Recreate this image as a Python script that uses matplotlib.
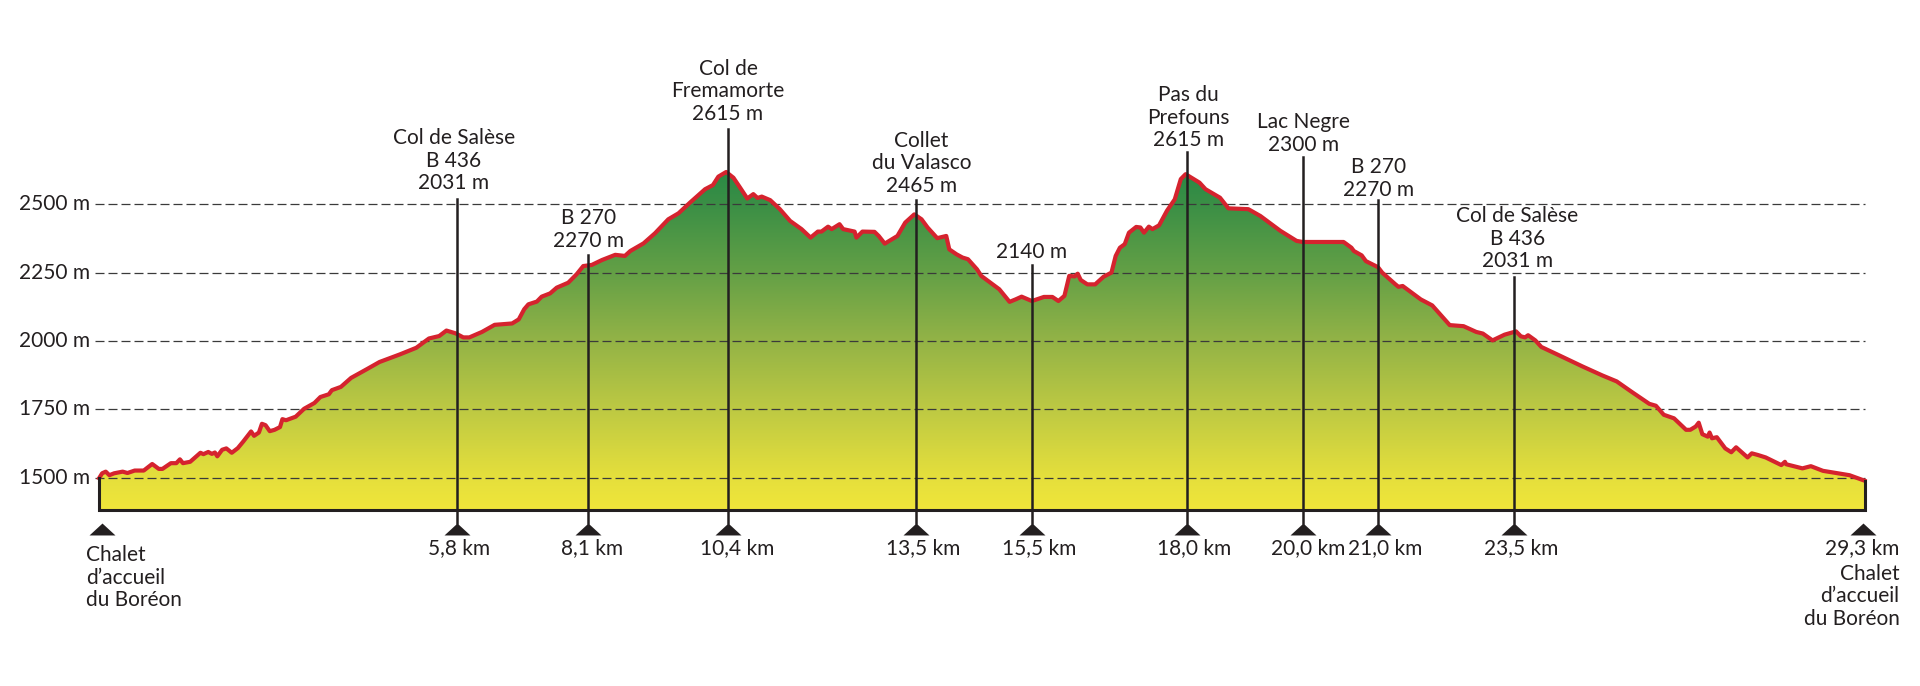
import numpy as np
import matplotlib.pyplot as plt
from matplotlib.colors import LinearSegmentedColormap
from matplotlib.patches import Polygon

plt.rcParams['font.family'] = ['Lato', 'DejaVu Sans']

# elevation profile
km = [0.01, 0.06, 0.12, 0.18, 0.26, 0.40, 0.48, 0.60, 0.75, 0.89, 1.00, 1.06, 1.20, 1.29, 1.35, 1.40,
      1.52, 1.69, 1.74, 1.82, 1.88, 1.93, 1.97, 2.05, 2.12, 2.21, 2.31, 2.40, 2.53, 2.58, 2.66, 2.71,
      2.77, 2.84, 2.92, 3.01, 3.05, 3.11, 3.27, 3.41, 3.58, 3.68, 3.82, 3.87, 4.02, 4.19, 4.46, 4.66,
      5.00, 5.27, 5.48, 5.65, 5.77, 5.92, 6.05, 6.15, 6.36, 6.57, 6.86, 6.97, 7.06, 7.13, 7.27, 7.35,
      7.49, 7.60, 7.79, 7.93, 8.04, 8.18, 8.35, 8.57, 8.73, 8.82, 9.04, 9.23, 9.45, 9.62, 9.81, 10.06,
      10.19, 10.28, 10.41, 10.53, 10.64, 10.76, 10.86, 10.93, 11.00, 11.14, 11.30, 11.47, 11.66, 11.81,
      11.93, 11.99, 12.10, 12.16, 12.29, 12.35, 12.54, 12.57, 12.67, 12.87, 12.94, 13.04, 13.25, 13.38,
      13.53, 13.65, 13.75, 13.91, 14.06, 14.11, 14.23, 14.33, 14.42, 14.57, 14.64, 14.94, 15.11, 15.21,
      15.31, 15.48, 15.68, 15.82, 15.92, 16.02, 16.10, 16.19, 16.24, 16.29, 16.40, 16.53, 16.67, 16.80,
      16.87, 16.94, 17.02, 17.09, 17.21, 17.28, 17.34, 17.42, 17.48, 17.59, 17.72, 17.85, 17.95, 18.03,
      18.26, 18.36, 18.60, 18.74, 19.07, 19.27, 19.60, 19.87, 19.97, 20.65, 20.78, 20.82, 20.95, 21.02,
      21.22, 21.29, 21.51, 21.56, 21.63, 21.93, 22.12, 22.41, 22.64, 22.85, 22.96, 23.12, 23.32, 23.51,
      23.59, 23.66, 23.71, 23.83, 23.93, 24.20, 24.61, 24.94, 25.18, 25.42, 25.72, 25.83, 25.96, 26.13,
      26.33, 26.40, 26.49, 26.54, 26.60, 26.69, 26.72, 26.76, 26.84, 26.98, 27.08, 27.16, 27.35, 27.42,
      27.52, 27.65, 27.91, 27.97, 27.99, 28.26, 28.40, 28.60, 28.87, 29.04, 29.14, 29.29]
alt = [1498, 1516, 1522, 1509, 1516, 1522, 1517, 1526, 1526, 1550, 1532, 1532, 1553, 1553, 1567, 1553,
       1558, 1591, 1586, 1594, 1587, 1592, 1578, 1602, 1607, 1591, 1608, 1632, 1669, 1653, 1665, 1697,
       1692, 1670, 1675, 1685, 1714, 1710, 1723, 1752, 1773, 1795, 1805, 1820, 1832, 1865, 1898, 1923,
       1951, 1975, 2009, 2018, 2038, 2028, 2013, 2013, 2033, 2059, 2064, 2079, 2116, 2134, 2144, 2162,
       2174, 2195, 2213, 2244, 2274, 2278, 2296, 2315, 2311, 2329, 2357, 2394, 2445, 2467, 2506, 2555,
       2570, 2601, 2618, 2597, 2561, 2521, 2537, 2523, 2528, 2515, 2482, 2439, 2409, 2378,
       2400, 2400, 2418, 2409, 2427, 2409, 2400, 2378, 2400, 2399, 2384, 2356, 2384, 2433,
       2463, 2445, 2415, 2376, 2384, 2335, 2317, 2305, 2299, 2262, 2238, 2189, 2143, 2152,
       2162, 2146, 2161, 2161, 2146, 2165, 2238, 2236, 2246, 2223, 2207, 2207, 2235, 2250,
       2311, 2341, 2354, 2396, 2417, 2415, 2396, 2418, 2409, 2423, 2476, 2518, 2592, 2610,
       2579, 2555, 2524, 2485, 2482, 2457, 2403, 2366, 2362, 2362, 2341, 2329, 2313, 2292,
       2270, 2250, 2207, 2198, 2201, 2152, 2130, 2058, 2054, 2033, 2027, 2002, 2023, 2035,
       2017, 2013, 2021, 2002, 1978, 1950, 1907, 1874, 1852, 1815, 1770, 1763, 1730, 1717,
       1675, 1675, 1687, 1701, 1659, 1650, 1665, 1644, 1648, 1607, 1593, 1611, 1574, 1589,
       1583, 1574, 1546, 1558, 1549, 1534, 1542, 1525, 1515, 1509, 1501, 1489]

# waypoints: position, top of the stem, label
stop_km = [5.94, 8.12, 10.44, 13.55, 15.48, 18.05, 19.97, 21.22, 23.48]
stop_top = [2519, 2316, 2777, 2516, 2277, 2691, 2674, 2517, 2233]
stop_names = ["Col de Salèse\nB 436\n2031 m", "B 270\n2270 m", "Col de\nFremamorte\n2615 m",
              "Collet\ndu Valasco\n2465 m", "2140 m", "Pas du\nPrefouns\n2615 m", "Lac Negre\n2300 m",
              "B 270\n2270 m", "Col de Salèse\nB 436\n2031 m"]
stop_dist = ["5,8 km", "8,1 km", "10,4 km", "13,5 km", "15,5 km", "18,0 km", "20,0 km", "21,0 km", "23,5 km"]
end_km = [0.06, 29.26]
end_names = ["Chalet\nd\u2019accueil\ndu Boréon", "Chalet\nd\u2019accueil\ndu Boréon"]
grid_alt = [1500, 1750, 2000, 2250, 2500]
grid_labels = ["1500 m", "1750 m", "2000 m", "2250 m", "2500 m"]
base_alt = 1381

name_dx = [-3, 0, 0, 6, 0, 2, 1, 1, 3]
name_dy = [6, 4, 5, 4, 3, 2, 2, 0, 6]
dist_dx = [2, 4, 9, 8, 7, 7, 6, 7, 7]
ink = '#231f20'
fs = 15
tri = [(-1, -0.46), (1, -0.46), (0, 0.46)]

fig = plt.figure(figsize=(19.2, 6.86), dpi=100)
ax = fig.add_axes([0, 0, 1, 1])
ax.axis('off')

# green to yellow fill, clipped on the profile
ramp = LinearSegmentedColormap.from_list('relief', [
    (0.0, '#f0e63a'), (0.096, '#e5df3c'), (0.298, '#bdc943'), (0.5, '#93b346'),
    (0.70, '#64a046'), (0.90, '#3b8f45'), (1.0, '#2a8945')])
grad = np.linspace(1, 0, 256).reshape(-1, 1)
img = ax.imshow(grad, cmap=ramp, extent=(0, 29.3, base_alt, 2620), aspect='auto', zorder=1)
outline = list(zip(km, alt)) + [(km[-1], base_alt), (km[0], base_alt)]
shape = Polygon(outline, closed=True, facecolor='none', edgecolor='none', transform=ax.transData)
ax.add_patch(shape)
img.set_clip_path(shape)
ax.set_xlim(-1.634, 30.21)
ax.set_ylim(738, 3247)

for a, lab in zip(grid_alt, grid_labels):
    ax.plot([-0.06, 29.3], [a, a], color='#3a3a3a', lw=0.9, dashes=(7.2, 3.2), zorder=2)
    ax.annotate(lab, (-0.14, a), ha='right', va='center', fontsize=fs, color=ink)

ax.plot(km, alt, color='#d5232e', lw=3.0, solid_joinstyle='round', zorder=3)
ax.plot([km[0], km[0], km[-1], km[-1]], [alt[0], base_alt, base_alt, alt[-1]], color=ink, lw=2.2,
        solid_joinstyle='miter', zorder=4)

for x, top, name, dist, dx, dy, ddx in zip(stop_km, stop_top, stop_names, stop_dist, name_dx, name_dy, dist_dx):
    ax.plot([x, x], [base_alt - 48, top], color=ink, lw=1.8, zorder=4)
    ax.plot([x], [base_alt - 69], marker=tri, ms=18.7, color=ink, mew=0, zorder=4)
    ax.annotate(name, (x, top), xytext=(dx, dy), textcoords='offset pixels', ha='center', va='bottom',
                fontsize=fs, color=ink, linespacing=1.15)
    ax.annotate(dist, (x, base_alt - 140), xytext=(ddx, 0), textcoords='offset pixels', ha='center',
                va='center', fontsize=fs, color=ink)

for x in end_km:
    ax.plot([x], [base_alt - 69], marker=tri, ms=18.7, color=ink, mew=0, zorder=4)
ax.annotate(end_names[0], (-0.2, base_alt - 128), ha='left', va='top', fontsize=fs, color=ink, linespacing=1.15)
ax.annotate("29,3 km", (29.87, base_alt - 140), ha='right', va='center', fontsize=fs, color=ink)
ax.annotate(end_names[1], (29.87, base_alt - 197), ha='right', va='top', fontsize=fs, color=ink, linespacing=1.15)

plt.savefig("out.png", dpi=100)
